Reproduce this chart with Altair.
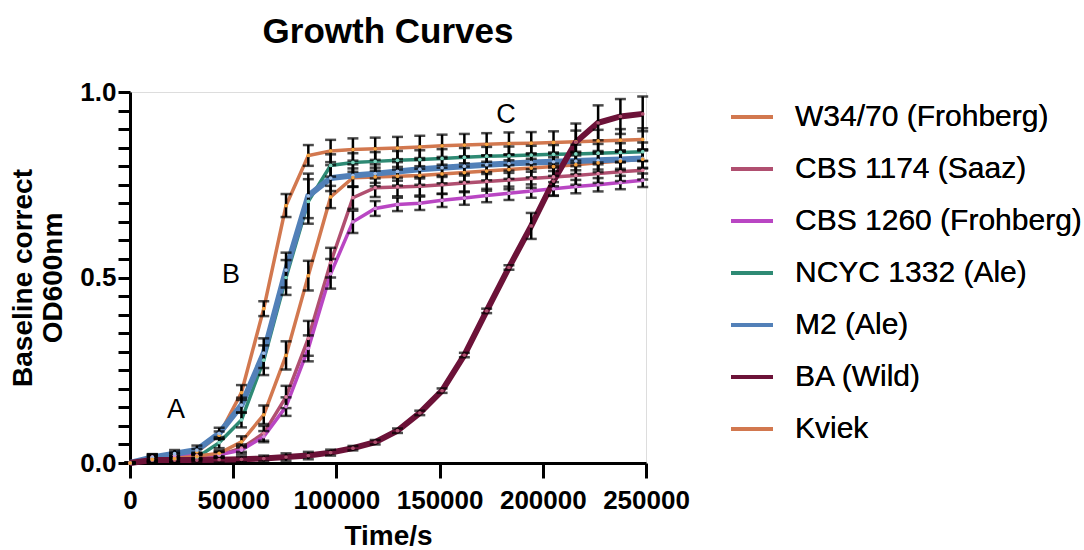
import altair as alt
import pandas as pd

# ---- data ----
time_s = [0, 10800, 21600, 32400, 43200, 54000, 64800, 75600, 86400, 97200,
          108000, 118800, 129600, 140400, 151200, 162000, 172800, 183600,
          194400, 205200, 216000, 226800, 237600, 248400]

series_names = ["W34/70 (Frohberg)", "CBS 1174 (Saaz)", "CBS 1260 (Frohberg)",
                "NCYC 1332 (Ale)", "M2 (Ale)", "BA (Wild)", "Kviek"]

w34_mean = [0, 0.015, 0.02, 0.03, 0.075, 0.19, 0.416, 0.694, 0.829, 0.841, 0.845, 0.847,
            0.849, 0.852, 0.855, 0.857, 0.859, 0.861, 0.862, 0.864, 0.866, 0.868, 0.870, 0.872]
w34_err = [0, 0.008, 0.008, 0.008, 0.01, 0.02, 0.02, 0.031, 0.028, 0.03, 0.03, 0.03,
           0.03, 0.03, 0.03, 0.03, 0.03, 0.03, 0.03, 0.03, 0.03, 0.03, 0.03, 0.03]

cbs1174_mean = [0, 0.012, 0.015, 0.017, 0.022, 0.04, 0.08, 0.178, 0.336, 0.54, 0.715, 0.742,
                0.744, 0.746, 0.750, 0.755, 0.759, 0.763, 0.767, 0.771, 0.775, 0.780, 0.785, 0.789]
cbs1174_err = [0, 0.008, 0.008, 0.008, 0.008, 0.01, 0.02, 0.03, 0.047, 0.04, 0.03, 0.025,
               0.025, 0.025, 0.025, 0.025, 0.025, 0.025, 0.025, 0.025, 0.025, 0.025, 0.025, 0.025]

cbs1260_mean = [0, 0.016, 0.02, 0.02, 0.022, 0.035, 0.071, 0.152, 0.309, 0.51, 0.65, 0.686,
                0.697, 0.70, 0.708, 0.714, 0.721, 0.727, 0.733, 0.739, 0.745, 0.750, 0.756, 0.762]
cbs1260_err = [0, 0.008, 0.008, 0.008, 0.008, 0.01, 0.015, 0.025, 0.035, 0.04, 0.03, 0.02,
               0.018, 0.018, 0.018, 0.018, 0.018, 0.018, 0.018, 0.018, 0.018, 0.018, 0.018, 0.018]

ncyc_mean = [0, 0.008, 0.01, 0.015, 0.055, 0.116, 0.277, 0.50, 0.705, 0.802, 0.81, 0.813,
             0.816, 0.818, 0.821, 0.824, 0.827, 0.828, 0.830, 0.832, 0.833, 0.835, 0.837, 0.839]
ncyc_err = [0, 0.008, 0.008, 0.008, 0.015, 0.02, 0.04, 0.047, 0.06, 0.03, 0.025, 0.025,
            0.025, 0.025, 0.025, 0.025, 0.025, 0.025, 0.025, 0.025, 0.025, 0.025, 0.025, 0.025]

m2_mean = [0, 0.015, 0.025, 0.035, 0.08, 0.156, 0.296, 0.52, 0.72, 0.768, 0.775, 0.78,
           0.786, 0.792, 0.796, 0.800, 0.804, 0.807, 0.810, 0.812, 0.814, 0.816, 0.818, 0.821]
m2_err = [0, 0.008, 0.01, 0.012, 0.015, 0.02, 0.04, 0.047, 0.06, 0.035, 0.03, 0.025,
          0.025, 0.025, 0.025, 0.025, 0.025, 0.025, 0.025, 0.025, 0.025, 0.025, 0.025, 0.025]

ba_mean = [0, 0.008, 0.008, 0.008, 0.009, 0.01, 0.012, 0.016, 0.02, 0.028, 0.04, 0.056,
           0.087, 0.135, 0.195, 0.291, 0.41, 0.527, 0.639, 0.76, 0.865, 0.917, 0.934, 0.941]
ba_err = [0, 0.005, 0.005, 0.006, 0.008, 0.008, 0.008, 0.01, 0.01, 0.008, 0.006, 0.006,
          0.006, 0.006, 0.006, 0.006, 0.006, 0.006, 0.035, 0.04, 0.05, 0.047, 0.047, 0.047]

kviek_mean = [0, 0.01, 0.012, 0.018, 0.026, 0.057, 0.13, 0.29, 0.505, 0.717, 0.769, 0.771,
              0.773, 0.775, 0.779, 0.783, 0.787, 0.791, 0.795, 0.799, 0.804, 0.809, 0.814, 0.819]
kviek_err = [0, 0.008, 0.008, 0.008, 0.008, 0.015, 0.025, 0.038, 0.04, 0.03, 0.025, 0.025,
             0.025, 0.025, 0.025, 0.025, 0.025, 0.025, 0.025, 0.025, 0.025, 0.025, 0.025, 0.025]

line_colors = ["#D2784F", "#B04F70", "#B946C3", "#2E8A74", "#5280B8", "#6C1238", "#D2784F"]
dot_colors = ["#F7A440", "#E07FA0", "#D98BE0", "#7FD6C0", "#9DBDE8", "#B0506F", "#F7A440"]
thick_series = ["M2 (Ale)", "BA (Wild)"]

annot_text = ["A", "B", "C"]
annot_x = [22300, 48900, 182200]
annot_y = [0.143, 0.506, 0.937]

x_tick_values = [0, 50000, 100000, 150000, 200000, 250000]
y_tick_values = [round(i * 0.05, 2) for i in range(21)]

# ---- build table ----
means = [w34_mean, cbs1174_mean, cbs1260_mean, ncyc_mean, m2_mean, ba_mean, kviek_mean]
errs = [w34_err, cbs1174_err, cbs1260_err, ncyc_err, m2_err, ba_err, kviek_err]
rows = []
for name, m, e in zip(series_names, means, errs):
    for t, v, s in zip(time_s, m, e):
        rows.append({"strain": name, "time": t, "od": v, "lo": v - s, "hi": v + s,
                     "thick": name in thick_series})
df = pd.DataFrame(rows)
ann = pd.DataFrame({"label": annot_text, "time": annot_x, "od": annot_y})

FONT = "Liberation Sans"

xscale = alt.Scale(domain=[0, 250000], nice=False)
yscale = alt.Scale(domain=[0, 1], nice=False)

x_axis = alt.Axis(title="Time/s", values=x_tick_values,
                  format="d", grid=False, tickSize=15, tickWidth=3,
                  domainWidth=3, domainColor="black", tickColor="black",
                  labelFontSize=26, labelFontWeight="bold", labelFont=FONT,
                  labelColor="black", labelPadding=9, titleFontSize=28,
                  titleFont=FONT, titleFontWeight="bold", titleColor="black",
                  titlePadding=9, labelFlush=False)
y_axis = alt.Axis(title=["Baseline correct", "OD600nm"], values=y_tick_values,
                  labelExpr="abs(datum.value*2 - round(datum.value*2)) < 0.001 ? format(datum.value, '.1f') : ''",
                  grid=False, tickSize=12, tickWidth=3, domainWidth=3,
                  domainColor="black", tickColor="black", labelFontSize=26,
                  labelFontWeight="bold", labelFont=FONT, labelColor="black",
                  labelPadding=2, titleFontSize=28, titleFont=FONT,
                  titleFontWeight="bold", titleColor="black", titlePadding=12,
                  labelFlush=False, labelOverlap=False)


def X(field):
    return alt.X(field, scale=xscale, axis=x_axis)


def Y(field):
    return alt.Y(field, scale=yscale, axis=y_axis)


color = alt.Color("strain:N",
                  scale=alt.Scale(domain=series_names, range=line_colors),
                  legend=alt.Legend(title=None, orient="none", legendX=599, legendY=2,
                                    symbolType="stroke", symbolSize=1764,
                                    symbolStrokeWidth=4, labelFontSize=30,
                                    labelFont=FONT, labelColor="black",
                                    labelLimit=400, labelOffset=20, rowPadding=14))

base = alt.Chart(df)
thin_lines = base.transform_filter("!datum.thick").mark_line(strokeWidth=3.5).encode(
    x=X("time:Q"), y=Y("od:Q"), color=color, order="time:Q")
thick_lines = base.transform_filter("datum.thick").mark_line(strokeWidth=6).encode(
    x=X("time:Q"), y=Y("od:Q"), color=color, order="time:Q")
bars = base.mark_rule(color="black", strokeWidth=2.5).encode(
    x=X("time:Q"), y=Y("lo:Q"), y2="hi:Q")
caps_lo = base.mark_tick(color="black", thickness=2.5, size=11, orient="horizontal").encode(
    x=X("time:Q"), y=Y("lo:Q"))
caps_hi = base.mark_tick(color="black", thickness=2.5, size=11, orient="horizontal").encode(
    x=X("time:Q"), y=Y("hi:Q"))
dots = base.mark_circle(size=14, opacity=1).encode(
    x=X("time:Q"), y=Y("od:Q"),
    color=alt.Color("strain:N", scale=alt.Scale(domain=series_names, range=dot_colors),
                    legend=None))
labels = alt.Chart(ann).mark_text(fontSize=27, font=FONT, color="black").encode(
    x=X("time:Q"), y=Y("od:Q"), text="label:N")

chart = alt.layer(thin_lines, thick_lines, bars, caps_lo, caps_hi, dots, labels).resolve_scale(
    color="independent"
).properties(
    width=516, height=371,
    title=alt.Title("Growth Curves", fontSize=35, font=FONT, fontWeight="bold",
                    color="black", anchor="middle", offset=29),
    autosize=alt.AutoSizeParams(type="none"),
    padding={"left": 130, "top": 92, "right": 438, "bottom": 87},
).configure_view(stroke=None).configure(background="white")

chart.save("out.html", embed_options={"renderer": "svg", "actions": False})
